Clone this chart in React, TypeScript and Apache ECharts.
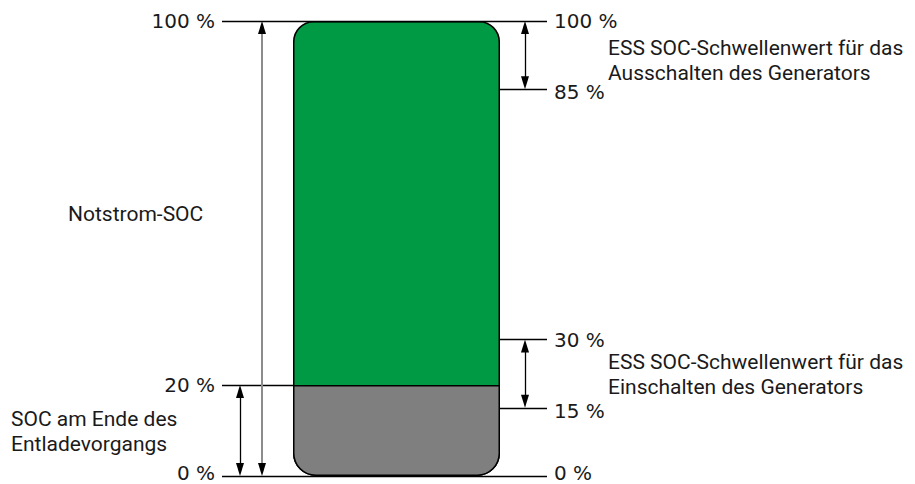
import React, { useEffect, useRef } from "react";
import * as echarts from "echarts";

// ---- data (SOC levels, %) ----
const dischargeEndSoc = 20;
const fullSoc = 100;
const leftTicks = [100, 20, 0];
const rightTicks = [100, 85, 30, 15, 0];
const backupRange = [100, 0];
const dischargeEndRange = [20, 0];
const generatorOffRange = [100, 85];
const generatorOnRange = [30, 15];
const textNotstrom = ["Notstrom-SOC"];
const textEnd = ["SOC am Ende des", "Entladevorgangs"];
const textOff = ["ESS SOC-Schwellenwert für das", "Ausschalten des Generators"];
const textOn = ["ESS SOC-Schwellenwert für das", "Einschalten des Generators"];

// ---- layout (pixel units of the x axis) ----
const X_LEFT = 222;
const BAT_L = 293;
const BAT_R = 500;
const X_RIGHT = 547;
const X_BACKUP = 262;
const X_END = 240;
const X_GEN = 525;
const FONT = "Roboto";
const FS = 21;
const TICK_FONT = "DejaVu Sans";
const TICK_FS = 20;
const TXT = "#1a1a1a";
const PX_PER_PCT = 4.55;
const HEAD = 13; // arrow head length in px
const inset = (HEAD / 2) / PX_PER_PCT;
const LINE_GAP = 25;

export default function App() {
  const ref = useRef<HTMLDivElement>(null);
  useEffect(() => {
    const chart = echarts.init(ref.current!, null, { renderer: "svg" });
    const lbl = (text: string, position: string, extra: any = {}) => ({
      show: true,
      formatter: text,
      position,
      distance: 7,
      color: TXT,
      fontSize: TICK_FS,
      fontFamily: TICK_FONT,
      ...extra,
    });
    const hLine = (y: number, x1: number, x2: number, label?: any) => [
      { coord: [x1, y], symbol: "none", label: label || { show: false } },
      { coord: [x2, y], symbol: "none" },
    ];
    const arrow = (x: number, range: number[], color = "#000") => [
      { coord: [x, range[0] - inset], symbol: "triangle", lineStyle: { color }, label: { show: false } },
      { coord: [x, range[1] + inset], symbol: "triangle" },
    ];
    const tickShift = (v: number) =>
      v === 85 || v === 15 ? { offset: [0, 3] } : v === 0 ? { offset: [0, -3] } : {};
    const lines: any[] = [];
    leftTicks.forEach((v) => {
      lines.push(hLine(v, X_LEFT, v === dischargeEndSoc ? BAT_L : BAT_R, lbl(`${v} %`, "start", tickShift(v))));
    });
    rightTicks.forEach((v) => {
      lines.push(hLine(v, BAT_R, X_RIGHT, lbl(`${v} %`, "end", tickShift(v))));
    });
    // backup SOC: gray shaft with black heads
    lines.push([
      { coord: [X_BACKUP, backupRange[0] - inset], symbol: "none", lineStyle: { color: "#8c8c8c", width: 2 }, label: { show: false } },
      { coord: [X_BACKUP, backupRange[1] + inset], symbol: "none" },
    ]);
    lines.push([
      { coord: [X_BACKUP, backupRange[0] - inset], symbol: "triangle", label: { show: false } },
      { coord: [X_BACKUP, backupRange[0] - inset - 1], symbol: "none" },
    ]);
    lines.push([
      { coord: [X_BACKUP, backupRange[1] + inset], symbol: "triangle", label: { show: false } },
      { coord: [X_BACKUP, backupRange[1] + inset + 1], symbol: "none" },
    ]);
    lines.push(arrow(X_END, dischargeEndRange));
    lines.push(arrow(X_GEN, generatorOffRange));
    lines.push(arrow(X_GEN, generatorOnRange));

    const block = (texts: string[], left: number, top: number) =>
      texts.map((t, i) => ({
        type: "text",
        left,
        top: top + i * LINE_GAP,
        style: { text: t, fill: TXT, fontSize: FS, fontFamily: FONT, lineHeight: 22 },
      }));

    chart.setOption({
      animation: false,
      grid: { left: 0, right: 0, top: 21, bottom: 8 },
      xAxis: { type: "value", min: 0, max: 915, show: false },
      yAxis: { type: "value", min: 0, max: fullSoc, show: false },
      series: [
        {
          type: "bar",
          barWidth: BAT_R - BAT_L,
          barGap: "-100%",
          data: [[(BAT_L + BAT_R) / 2, fullSoc]],
          itemStyle: { color: "#009a44", borderColor: "#000", borderWidth: 1.5, borderRadius: [20, 20, 22, 22] },
          silent: true,
        },
        {
          type: "bar",
          barWidth: BAT_R - BAT_L,
          barGap: "-100%",
          data: [[(BAT_L + BAT_R) / 2, dischargeEndSoc]],
          itemStyle: { color: "#7f7f7f", borderColor: "#000", borderWidth: 1.5, borderRadius: [0, 0, 22, 22] },
          silent: true,
          markLine: {
            silent: true,
            animation: false,
            symbolSize: [8, HEAD],
            lineStyle: { color: "#000", width: 1.3, type: "solid" },
            label: { show: false },
            data: lines,
          },
        },
      ],
      graphic: [
        ...block(textNotstrom, 68, 203),
        ...block(textEnd, 11, 408),
        ...block(textOff, 608, 37),
        ...block(textOn, 608, 351),
      ],
    });
    return () => chart.dispose();
  }, []);
  return (
    <div
      ref={ref}
      style={{ position: "fixed", left: 0, top: 0, width: 915, height: 484, background: "#fff" }}
    />
  );
}
